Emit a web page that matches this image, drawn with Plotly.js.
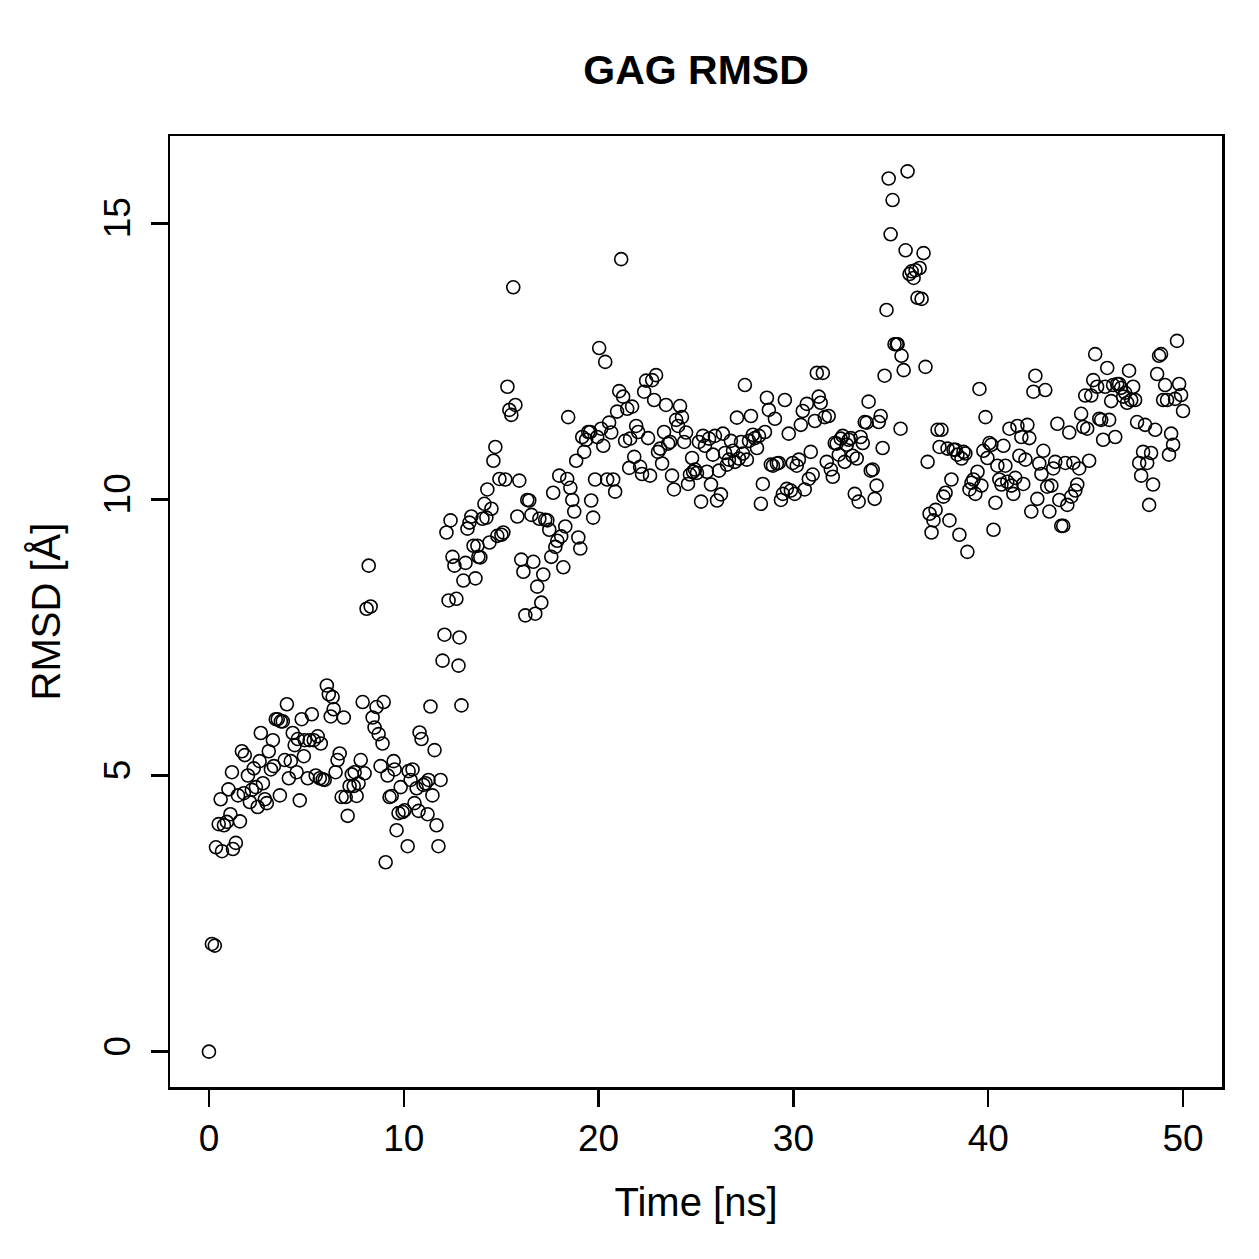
<!DOCTYPE html>
<html>
<head>
<meta charset="utf-8">
<script src="https://cdn.plot.ly/plotly-3.0.1.min.js"></script>
<style>html,body{margin:0;padding:0;background:#fff;}#plot{width:1259px;height:1259px;}</style>
</head>
<body>
<div id="plot"></div>
<script>
// Time [ns]
const time = [
0,0.15,0.3,0.36,0.5,0.6,0.67,0.77,0.92,1.0,1.1,1.18,1.23,1.38,1.49,1.59,1.69,1.79,1.84,2.0,
2.1,2.2,2.3,2.41,2.5,2.6,2.66,2.77,2.87,2.97,3.07,3.18,3.28,3.33,3.43,3.53,3.64,3.69,3.79,3.89,
4.0,4.1,4.2,4.3,4.4,4.5,4.56,4.66,4.76,4.87,4.92,5.07,5.17,5.28,5.38,5.48,5.58,5.69,5.74,5.84,
5.94,6.05,6.15,6.25,6.35,6.4,6.5,6.6,6.71,6.81,6.92,7.02,7.12,7.22,7.33,7.43,7.48,7.58,7.68,7.79,
7.89,7.99,8.09,8.2,8.3,8.4,8.5,8.6,8.71,8.81,8.91,8.97,9.07,9.17,9.27,9.38,9.48,9.53,9.63,9.73,
9.84,9.94,10.04,10.2,10.25,
10.35,10.45,10.55,10.66,10.76,10.81,10.91,11.01,11.12,11.22,11.27,11.37,11.47,11.58,11.68,11.78,11.89,11.99,12.09,12.19,
12.3,12.4,12.5,12.6,12.7,12.81,12.86,12.96,13.06,13.17,13.27,13.37,13.47,13.58,13.68,13.78,13.83,13.93,14.04,14.14,
14.24,14.29,14.4,14.5,14.6,14.7,14.8,14.91,15.01,15.11,15.21,15.32,15.42,15.52,15.62,15.73,15.83,15.93,16.03,16.14,
16.24,16.34,16.44,16.55,16.65,16.75,16.85,16.96,17.06,17.16,17.26,17.37,17.47,17.57,17.67,17.78,17.88,17.98,18.08,18.19,
18.29,18.39,18.44,18.55,18.65,18.75,18.85,18.96,19.06,19.16,19.26,19.36,19.47,19.57,19.62,19.72,19.82,19.93,
20.03,20.13,20.24,20.34,20.44,20.54,20.65,20.75,20.85,20.95,21.06,21.16,21.26,21.36,21.47,21.57,21.62,21.72,21.83,21.93,
22.03,22.13,22.23,22.34,22.44,22.54,22.64,22.75,22.85,22.95,23.05,23.16,23.26,23.36,23.46,23.57,23.67,23.77,23.87,23.98,
24.08,24.18,24.28,24.39,24.49,24.59,24.69,24.8,24.85,24.95,25.05,25.15,25.26,25.36,25.46,25.56,25.67,25.77,25.87,25.97,
26.08,26.18,26.28,26.38,26.49,26.59,26.69,26.79,26.9,27.0,27.1,27.2,27.31,27.41,27.51,27.61,27.72,27.82,27.92,28.02,
28.13,28.23,28.33,28.43,28.54,28.64,28.74,28.84,28.95,29.05,29.15,29.25,29.36,29.46,29.56,29.66,29.76,29.87,29.97,
30.07,30.17,30.28,30.38,30.48,30.58,30.69,30.79,30.89,30.99,31.1,31.2,31.3,31.4,31.51,31.61,31.71,31.81,31.92,32.02,
32.12,32.22,32.33,32.43,32.53,32.63,32.74,32.84,32.94,33.04,33.15,33.25,33.35,33.45,33.56,33.66,33.76,33.86,33.97,34.07,
34.17,34.27,34.38,34.48,34.58,34.68,34.78,34.89,34.99,35.09,35.19,35.3,35.35,35.5,35.55,35.66,35.76,35.86,35.96,36.07,
36.17,36.27,36.37,36.48,36.58,36.68,36.78,36.89,36.99,37.09,37.19,37.3,37.4,37.5,37.6,37.7,37.81,37.91,38.01,38.11,
38.22,38.32,38.42,38.52,38.63,38.73,38.83,38.93,39.04,39.14,39.24,39.34,39.45,39.55,39.65,39.75,39.86,39.96,
40.06,40.16,40.27,40.37,40.47,40.57,40.68,40.78,40.88,40.98,41.09,41.19,41.29,41.39,41.5,41.6,41.7,41.8,41.91,42.01,
42.11,42.21,42.32,42.42,42.52,42.62,42.73,42.83,42.93,43.03,43.14,43.24,43.34,43.44,43.55,43.65,43.75,43.85,43.96,44.06,
44.16,44.26,44.37,44.47,44.57,44.67,44.77,44.88,44.98,45.08,45.18,45.29,45.39,45.49,45.59,45.7,45.8,45.9,46.0,46.11,
46.21,46.31,46.41,46.52,46.62,46.72,46.82,46.93,47.03,47.13,47.23,47.34,47.44,47.54,47.64,47.75,47.85,47.95,48.05,48.16,
48.26,48.36,48.46,48.57,48.67,48.77,48.87,48.98,49.08,49.18,49.28,49.39,49.49,49.59,49.69,49.8,49.9,50.0
];
// RMSD [Å]
const rmsd = [
0,1.95,1.92,3.7,4.12,4.57,3.63,4.1,4.16,4.75,4.3,5.06,3.67,3.78,4.64,4.17,5.44,4.68,5.37,5.0,
4.52,4.74,5.13,4.79,4.43,5.26,5.77,4.86,4.57,4.5,5.44,5.11,5.64,5.17,6.02,6.02,4.64,5.98,5.98,5.28,
6.29,4.95,5.26,5.77,5.55,5.06,5.66,4.55,6.02,5.35,5.64,4.95,5.64,6.11,5.64,5.0,5.71,4.95,5.58,4.93,
4.92,6.63,6.47,6.07,6.42,6.2,5.06,5.28,5.4,4.61,6.05,4.61,4.27,4.81,5.02,4.81,5.06,4.63,4.86,5.28,
6.33,5.04,8.02,8.8,8.06,6.05,5.87,6.24,5.75,5.17,5.58,6.33,3.43,5.0,4.61,4.63,5.26,5.11,4.01,4.32,
4.79,4.34,4.37,3.72,5.08,
4.92,5.11,4.5,4.77,4.36,5.78,5.66,4.83,4.86,4.3,4.92,6.25,4.64,5.46,4.1,3.72,4.92,7.08,7.55,9.4,
8.17,9.62,8.96,8.8,8.2,6.99,7.5,6.27,8.53,8.85,9.47,9.58,9.69,9.16,8.57,9.16,8.96,8.95,9.65,9.92,
9.67,10.18,9.22,9.83,10.7,10.95,9.34,10.37,9.36,9.4,10.36,12.04,11.62,11.53,13.84,11.71,9.69,10.34,8.91,8.69,
7.9,9.99,9.98,9.72,8.87,7.93,8.42,9.65,8.13,8.64,9.63,9.62,9.45,8.96,10.12,9.14,9.25,10.43,9.33,8.77,
9.51,10.37,11.49,10.21,9.99,9.78,10.7,9.31,9.11,11.13,10.86,11.08,11.22,11.22,9.98,9.67,10.36,11.13,
12.74,11.28,10.97,12.49,10.36,11.39,11.21,10.36,10.14,11.59,11.96,14.35,11.86,11.06,11.64,10.57,11.1,11.68,10.77,11.33,
11.22,10.59,10.46,11.95,12.15,11.11,10.43,12.16,11.8,12.25,10.86,10.92,10.65,11.22,11.71,11.01,11.04,10.43,10.18,11.44,
11.33,11.69,11.49,11.04,11.21,10.28,10.45,10.75,10.5,10.54,10.48,11.04,9.96,11.15,10.97,10.5,11.1,10.27,10.81,11.15,
9.98,10.52,10.09,11.19,10.84,10.63,10.72,11.06,10.88,10.68,11.48,10.74,11.04,10.83,12.07,10.72,11.06,11.51,11.17,11.11,
10.93,11.15,9.92,10.28,11.22,11.84,11.62,10.63,10.61,11.46,10.65,10.66,9.99,10.1,11.8,10.19,11.19,10.16,10.66,
10.1,10.61,10.72,11.35,11.6,10.18,11.73,10.37,10.86,10.45,11.42,12.29,11.86,11.75,12.29,11.49,10.68,11.51,10.54,10.41,
11.02,11.01,10.81,11.1,11.15,10.68,10.99,11.08,11.11,10.79,10.1,10.74,9.96,11.13,11.02,11.4,11.39,11.77,10.52,10.54,
10.01,10.25,11.4,11.51,10.93,12.24,13.43,15.81,14.8,15.42,12.81,12.81,12.81,11.28,12.6,12.34,14.51,15.94,14.08,14.13,
14.01,14.15,13.65,14.19,13.63,14.46,12.4,10.68,9.74,9.4,9.62,9.81,11.26,10.95,11.26,10.05,10.12,10.92,9.62,10.36,
10.9,10.9,10.81,9.36,10.74,10.86,10.83,9.05,10.18,10.3,10.36,10.1,10.5,12.0,10.25,10.88,11.49,10.75,
11.02,10.99,9.45,9.94,10.61,10.36,10.27,10.97,10.61,10.32,11.28,10.25,10.1,10.39,11.33,10.79,11.13,10.28,10.72,11.35,
11.11,9.78,11.95,12.24,10.01,10.65,10.46,10.88,11.98,10.23,9.78,10.25,10.56,10.68,11.37,9.99,9.52,9.52,10.66,9.9,
11.21,10.05,10.66,10.16,10.27,10.56,11.55,11.31,11.88,11.28,10.7,11.88,12.16,12.63,12.04,11.46,11.44,11.08,12.04,12.38,
11.44,11.78,12.07,11.13,12.09,12.09,12.02,11.86,11.93,11.75,12.33,11.8,12.04,11.8,11.4,10.66,10.43,10.86,11.35,10.66,
9.9,10.84,10.27,11.26,12.27,12.6,12.63,11.8,12.07,11.8,10.81,11.19,10.99,11.82,12.87,12.09,11.89,11.6
];
const xTicks = [0, 10, 20, 30, 40, 50];
const yTicks = [0, 5, 10, 15];

const font = 'Liberation Sans, Arial, Helvetica, sans-serif';

Plotly.newPlot('plot', [{
  x: time,
  y: rmsd,
  type: 'scatter',
  mode: 'markers',
  marker: {symbol: 'circle-open', size: 13, color: '#000', line: {color: '#000', width: 1.6}},
  hoverinfo: 'x+y'
}], {
  width: 1259,
  height: 1259,
  margin: {l: 170, r: 37, t: 136, b: 172},
  paper_bgcolor: '#fff',
  plot_bgcolor: '#fff',
  showlegend: false,
  title: {text: '<b>GAG RMSD</b>', font: {family: font, size: 41, color: '#000'},
          x: 0.5, xref: 'paper', xanchor: 'center', y: 0.945, yref: 'container', yanchor: 'middle'},
  xaxis: {
    range: [-2, 52],
    tickvals: xTicks,
    ticktext: xTicks.map(String),
    ticks: 'outside', ticklen: 17, tickwidth: 2.5, tickcolor: '#000',
    showgrid: false, zeroline: false,
    showline: true, linecolor: '#000', linewidth: 2.5, mirror: true,
    tickfont: {family: font, size: 37, color: '#000'},
    title: {text: 'Time [ns]', font: {family: font, size: 40, color: '#000'}, standoff: 30}
  },
  yaxis: {
    range: [-0.64, 16.58],
    tickvals: yTicks,
    ticktext: yTicks.map(String),
    tickangle: -90,
    ticklabelstandoff: 6,
    ticks: 'outside', ticklen: 17, tickwidth: 2.5, tickcolor: '#000',
    showgrid: false, zeroline: false,
    showline: true, linecolor: '#000', linewidth: 2.5, mirror: true,
    tickfont: {family: font, size: 37, color: '#000'},
    title: {text: 'RMSD [Å]', font: {family: font, size: 40, color: '#000'}, standoff: 24}
  }
}, {displayModeBar: false, staticPlot: true});
</script>
</body>
</html>
